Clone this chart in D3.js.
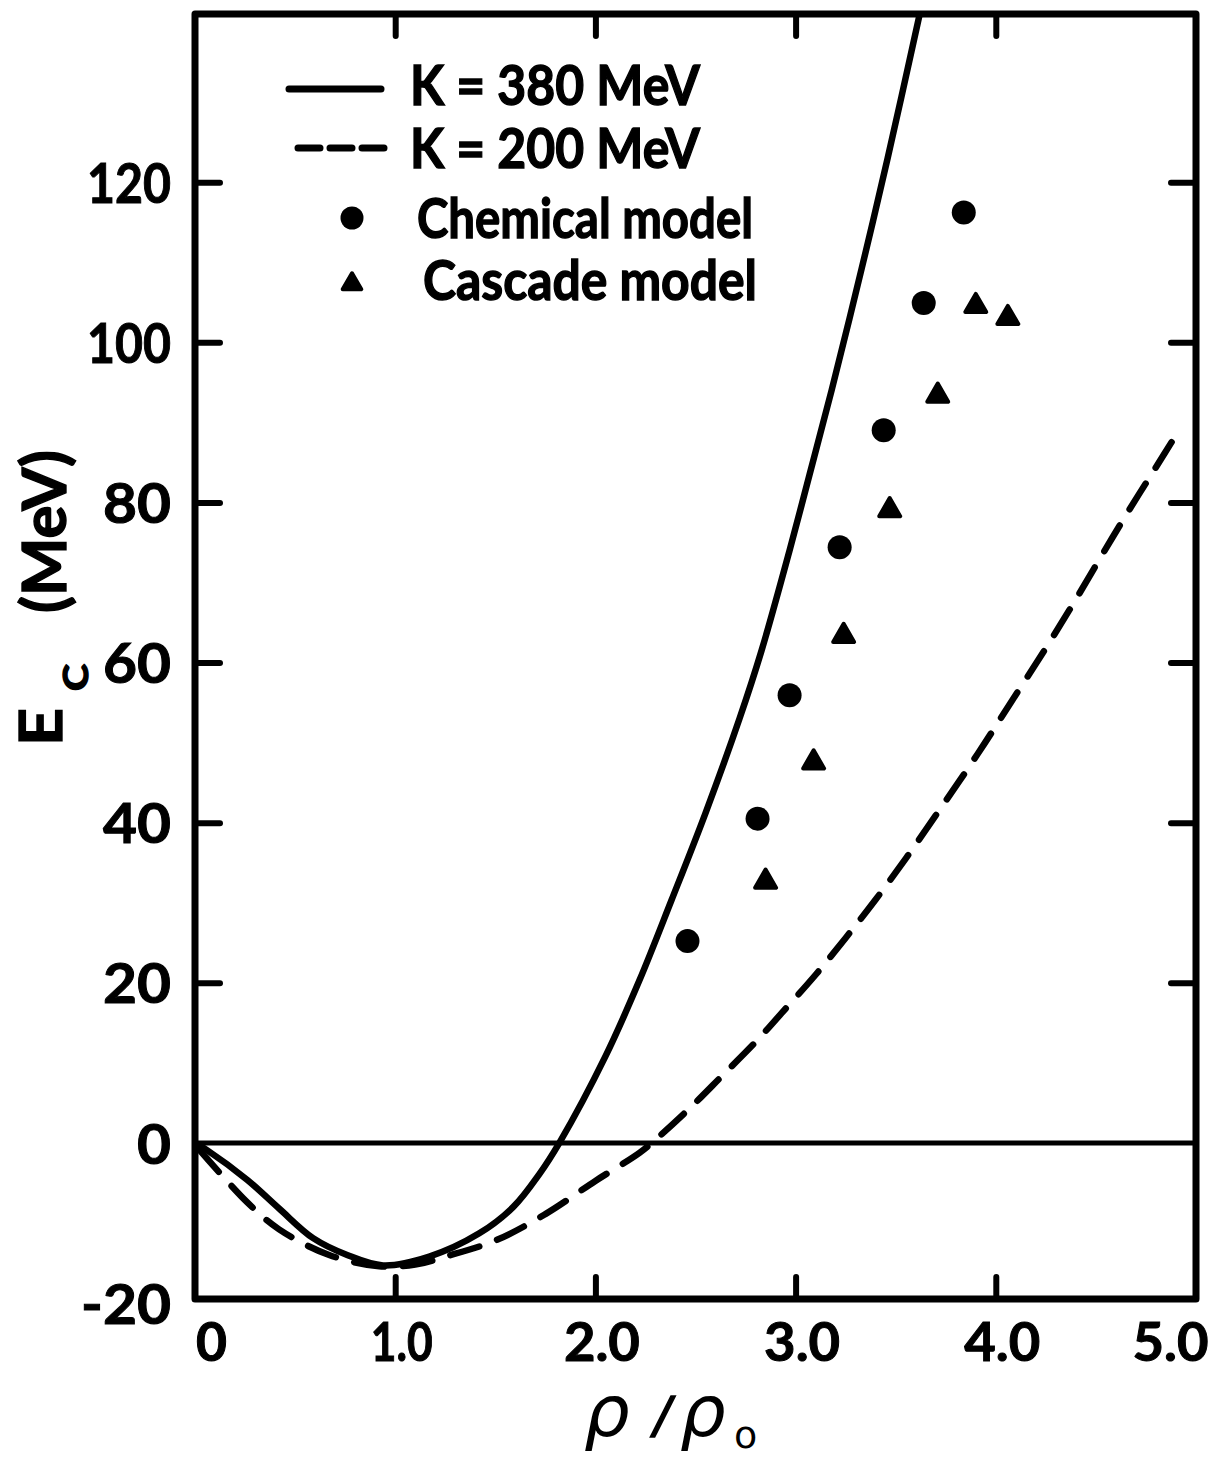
<!DOCTYPE html>
<html>
<head>
<meta charset="utf-8">
<script src="https://cdn.jsdelivr.net/npm/d3@7"></script>
<style>
  html, body { margin: 0; padding: 0; background: #fff; }
  svg { display: block; }
</style>
</head>
<body>
<script>
// ---------------- data ----------------
const k380Rho = [0, 0.06, 0.26, 0.42, 0.59, 0.76, 0.94, 1.17, 1.42, 1.59, 1.72, 1.82, 2.05, 2.22, 2.38, 2.55, 2.72, 2.83, 2.97, 3.07, 3.18, 3.33, 3.46, 3.62];
const k380E   = [0, -0.9, -4.6, -8.2, -11.9, -14.0, -15.3, -14.2, -11.3, -8.0, -3.9, 0, 10.8, 20.3, 30.3, 41.2, 53.0, 61.5, 74.0, 83.5, 94.0, 109.2, 123.0, 141];

const k200Rho = [0.02, 0.26, 0.42, 0.67, 0.92, 1.10, 1.25, 1.50, 1.75, 2.00, 2.22, 2.30, 2.47, 2.63, 2.80, 2.93, 3.10, 3.25, 3.40, 3.55, 3.70, 3.91, 4.08, 4.25, 4.40, 4.53, 4.66, 4.80, 4.91];
const k200E   = [-0.8, -7.4, -10.8, -14.0, -15.4, -15.2, -14.2, -12.2, -8.9, -4.75, -1.25, 0.4, 4.3, 8.3, 12.6, 16.2, 21.0, 25.6, 30.4, 35.5, 40.9, 48.6, 55.2, 61.8, 67.9, 73.4, 78.8, 84.4, 88.8];

const chemRho = [2.46, 2.81, 2.97, 3.22, 3.44, 3.64, 3.84];
const chemE   = [25.2, 40.5, 55.9, 74.4, 89.0, 104.9, 116.2];

const cascRho = [2.85, 3.09, 3.24, 3.47, 3.71, 3.90, 4.06];
const cascE   = [33.0, 47.9, 63.7, 79.4, 93.7, 104.9, 103.4];

const xTicks = [0, 1, 2, 3, 4, 5];
const xTickLabels = ["0", "1.0", "2.0", "3.0", "4.0", "5.0"];
const xInnerTicks = [1, 2, 3, 4];
const yTicks = [-20, 0, 20, 40, 60, 80, 100, 120];
const yTickLabels = ["-20", "0", "20", "40", "60", "80", "100", "120"];
const yInnerTicks = [20, 40, 60, 80, 100, 120];

const legendLabels = ["K = 380 MeV", "K = 200 MeV", "Chemical model", "Cascade model"];

// ---------------- layout ----------------
const W = 1209, H = 1458;
const pL = 195, pR = 1196, pT = 14, pB = 1299;
const ink = "#000";
const FONT = "Lato, 'DejaVu Sans', sans-serif";

const svg = d3.select("body").append("svg").attr("width", W).attr("height", H);

const x = d3.scaleLinear().domain([0, 5]).range([pL, pR]);
const y = d3.scaleLinear().domain([-19.5, 141]).range([pB, pT]);

svg.append("defs").append("clipPath").attr("id", "plot")
  .append("rect").attr("x", pL).attr("y", pT).attr("width", pR - pL).attr("height", pB - pT);

function labelWidth(s, dig, one, dot, minus) {
  let w = 0;
  for (const c of s) {
    if (c === "1") w += one; else if (c === ".") w += dot; else if (c === "-") w += minus; else w += dig;
  }
  return w;
}

// ---------------- axes ----------------
function styleAxis(g) {
  g.select(".domain").remove();
  g.selectAll(".tick line").attr("stroke", ink).attr("stroke-width", 6).attr("stroke-linecap", "round");
  g.selectAll(".tick text").attr("fill", ink).attr("font-family", FONT).attr("font-weight", 700)
    .attr("stroke", ink).attr("stroke-width", 1);
}

const gL = svg.append("g").attr("transform", `translate(${pL},0)`)
  .call(d3.axisLeft(y).tickValues(yTicks).tickSizeInner(-25).tickSizeOuter(0).tickPadding(24)
    .tickFormat((d, i) => yTickLabels[i]));
styleAxis(gL);
gL.selectAll(".tick").filter(d => d === -20 || d === 0).select("line").remove();
gL.selectAll(".tick text").attr("font-size", 56).attr("dy", "0.36em")
  .attr("textLength", (d, i) => labelWidth(yTickLabels[i], 34, 16, 12, 22))
  .attr("lengthAdjust", "spacingAndGlyphs");

const gR = svg.append("g").attr("transform", `translate(${pR},0)`)
  .call(d3.axisRight(y).tickValues(yInnerTicks).tickSizeInner(-25).tickSizeOuter(0).tickFormat(""));
styleAxis(gR);

const gB = svg.append("g").attr("transform", `translate(0,${pB})`)
  .call(d3.axisBottom(x).tickValues(xTicks).tickSizeInner(-22).tickSizeOuter(0).tickPadding(24)
    .tickFormat((d, i) => xTickLabels[i]));
styleAxis(gB);
gB.selectAll(".tick").filter(d => d === 0 || d === 5).select("line").remove();
gB.selectAll(".tick text").attr("font-size", 53).attr("dy", "0.71em")
  .attr("dx", d => d === 0 ? 16 : (d === 5 ? -26 : 6))
  .attr("textLength", (d, i) => labelWidth(xTickLabels[i], 31, 17, 14, 20))
  .attr("lengthAdjust", "spacingAndGlyphs");

const gT = svg.append("g").attr("transform", `translate(0,${pT})`)
  .call(d3.axisTop(x).tickValues(xInnerTicks).tickSizeInner(-22).tickSizeOuter(0).tickFormat(""));
styleAxis(gT);

svg.append("rect").attr("x", pL).attr("y", pT).attr("width", pR - pL).attr("height", pB - pT)
  .attr("fill", "none").attr("stroke", ink).attr("stroke-width", 7).attr("stroke-linejoin", "round");

svg.append("line").attr("x1", x(0)).attr("x2", x(5)).attr("y1", y(0)).attr("y2", y(0))
  .attr("stroke", ink).attr("stroke-width", 5);

// ---------------- curves ----------------
const line = d3.line().x(d => x(d[0])).y(d => y(d[1])).curve(d3.curveCatmullRom.alpha(0.5));
const k380 = k380Rho.map((r, i) => [r, k380E[i]]);
const k200 = k200Rho.map((r, i) => [r, k200E[i]]);

const plot = svg.append("g").attr("clip-path", "url(#plot)");
plot.append("path").attr("d", line(k380)).attr("fill", "none").attr("stroke", ink)
  .attr("stroke-width", 6.5).attr("stroke-linecap", "round").attr("stroke-linejoin", "round");
plot.append("path").attr("d", line(k200)).attr("fill", "none").attr("stroke", ink)
  .attr("stroke-width", 6.5).attr("stroke-linecap", "round").attr("stroke-dasharray", "30 19");

// ---------------- markers ----------------
const chem = chemRho.map((r, i) => [r, chemE[i]]);
const casc = cascRho.map((r, i) => [r, cascE[i]]);
const tri = d3.symbol().type(d3.symbolTriangle).size(190);

svg.append("g").selectAll("circle").data(chem).join("circle")
  .attr("cx", d => x(d[0])).attr("cy", d => y(d[1])).attr("r", 12).attr("fill", ink);

svg.append("g").selectAll("path").data(casc).join("path")
  .attr("d", tri).attr("transform", d => `translate(${x(d[0])},${y(d[1]) + 3})`)
  .attr("fill", ink).attr("stroke", ink).attr("stroke-width", 4).attr("stroke-linejoin", "round");

// ---------------- legend ----------------
const lg = svg.append("g");
lg.append("line").attr("x1", 289).attr("x2", 381).attr("y1", 89).attr("y2", 89)
  .attr("stroke", ink).attr("stroke-width", 7).attr("stroke-linecap", "round");
lg.append("line").attr("x1", 298).attr("x2", 384).attr("y1", 148).attr("y2", 148)
  .attr("stroke", ink).attr("stroke-width", 7).attr("stroke-linecap", "round").attr("stroke-dasharray", "22 10");
lg.append("circle").attr("cx", 352).attr("cy", 218).attr("r", 11.5).attr("fill", ink);
lg.append("path").attr("d", d3.symbol().type(d3.symbolTriangle).size(150))
  .attr("transform", "translate(352,284)").attr("fill", ink).attr("stroke", ink)
  .attr("stroke-width", 4).attr("stroke-linejoin", "round");

const legPos = [[410, 105, 290], [410, 168, 290], [417, 238, 336], [423, 300, 334]];
lg.selectAll("text").data(legendLabels).join("text")
  .attr("x", (d, i) => legPos[i][0]).attr("y", (d, i) => legPos[i][1])
  .attr("textLength", (d, i) => legPos[i][2]).attr("lengthAdjust", "spacingAndGlyphs")
  .attr("font-family", FONT).attr("font-weight", 700).attr("font-size", 56).attr("fill", ink)
  .attr("stroke", ink).attr("stroke-width", 1.4)
  .text(d => d);

// ---------------- axis titles ----------------
const yt = svg.append("g").attr("transform", "rotate(-90)").attr("font-family", FONT).attr("font-weight", 700)
  .attr("fill", ink).attr("stroke", ink).attr("stroke-width", 1.4);
yt.append("text").attr("x", -746).attr("y", 62).attr("font-size", 60).attr("textLength", 38).attr("lengthAdjust", "spacingAndGlyphs").text("E");
yt.append("text").attr("x", -691).attr("y", 88).attr("font-size", 34).attr("textLength", 27).attr("lengthAdjust", "spacingAndGlyphs").text("C");
yt.append("text").attr("x", -613).attr("y", 66).attr("font-size", 62).attr("textLength", 163).attr("lengthAdjust", "spacingAndGlyphs").text("(MeV)");

const xt = svg.append("g").attr("font-family", "'DejaVu Sans', sans-serif").attr("fill", ink);
xt.append("text").attr("x", 584).attr("y", 1436).attr("font-size", 72).attr("font-style", "italic").text("ρ");
xt.append("text").attr("x", 654).attr("y", 1432).attr("font-size", 50).attr("font-style", "italic")
  .attr("stroke", ink).attr("stroke-width", 1.5).text("/");
xt.append("text").attr("x", 680).attr("y", 1436).attr("font-size", 72).attr("font-style", "italic").text("ρ");
xt.append("text").attr("x", 734).attr("y", 1448).attr("font-size", 38).text("o");
</script>
</body>
</html>
